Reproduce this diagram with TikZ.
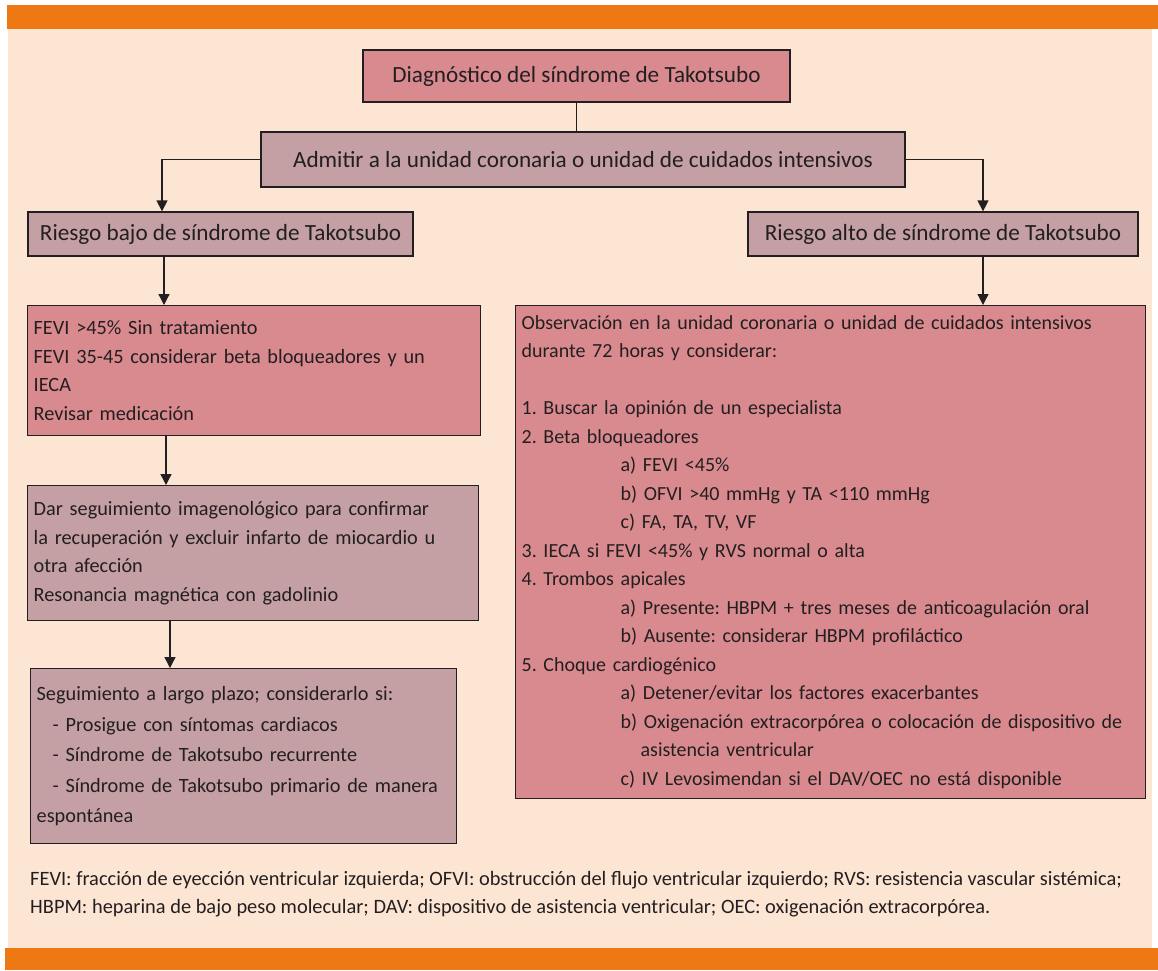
\documentclass[tikz,border=0pt]{standalone}
\usepackage{fontspec}
\setmainfont{Carlito}
\usetikzlibrary{arrows.meta}
\definecolor{orangebar}{HTML}{EE7914}
\definecolor{peach}{HTML}{FDE5D4}
\definecolor{pinkbox}{HTML}{D98A8F}
\definecolor{mauvebox}{HTML}{C49FA3}
\definecolor{ink}{HTML}{231F20}
\frenchspacing
\tikzset{
  boxbase/.style={draw=ink, line width=1.3pt, rectangle, inner xsep=6pt, inner ysep=4pt, text=ink},
  headbox/.style={boxbase, font=\fontsize{23.2}{27}\selectfont\frenchspacing, align=center},
  listbox/.style={boxbase, anchor=north west, align=left, font=\fontsize{20.3}{28.5}\selectfont\frenchspacing},
  pinkfill/.style={fill=pinkbox},
  mauvefill/.style={fill=mauvebox},
  conn/.style={draw=ink, line width=1.3pt},
  arr/.style={conn, -{Triangle[width=11pt,length=11pt]}},
}
\begin{document}
\begin{tikzpicture}[x=1pt,y=-1pt]
\useasboundingbox (0,0) rectangle (1158,970);
\fill[white] (0,0) rectangle (1158,970);
\fill[peach] (8,29) rectangle (1152,948);
\fill[orangebar] (7,5) rectangle (1158,29);
\fill[orangebar] (5,948) rectangle (1158,970);

\node[headbox, pinkfill, minimum width=427pt, minimum height=52pt] (title) at (576.5,76) {Diagnóstico del síndrome de Takotsubo};
\node[headbox, mauvefill, minimum width=644pt, minimum height=55pt] (admit) at (583,159.5) {Admitir a la unidad coronaria o unidad de cuidados intensivos};
\node[headbox, mauvefill, minimum width=385pt, minimum height=44pt] (bajo) at (220.5,234) {Riesgo bajo de síndrome de Takotsubo};
\node[headbox, mauvefill, minimum width=390pt, minimum height=44pt] (alto) at (943,234) {Riesgo alto de síndrome de Takotsubo};

\node[listbox, pinkfill, minimum width=453pt, minimum height=130pt, text width=441pt] (fevi) at (27,305) {FEVI >45\% Sin tratamiento\\FEVI 35-45 considerar beta bloqueadores y un\\IECA\\Revisar medicación};
\node[listbox, mauvefill, minimum width=451pt, minimum height=135pt, text width=439pt] (dar) at (27,485) {Dar seguimiento imagenológico para confirmar\\la recuperación y excluir infarto de miocardio u\\otra afección\\Resonancia magnética con gadolinio};
\node[listbox, mauvefill, minimum width=426pt, minimum height=175pt, text width=414pt, font=\fontsize{20.3}{30.5}\selectfont\frenchspacing] (seg) at (30,668) {Seguimiento a largo plazo; considerarlo si:\\\hspace*{16pt}- Prosigue con síntomas cardiacos\\\hspace*{16pt}- Síndrome de Takotsubo recurrente\\\hspace*{16pt}- Síndrome de Takotsubo primario de manera\\espontánea};
\node[listbox, pinkfill, minimum width=630pt, minimum height=493pt, text width=618pt, font=\fontsize{20}{28.5}\selectfont\frenchspacing] (obs) at (515,305) {Observación en la unidad coronaria o unidad de cuidados intensivos\\durante 72 horas y considerar:\\[28.5pt]1. Buscar la opinión de un especialista\\2. Beta bloqueadores\\\hspace*{99pt}a) FEVI <45\%\\\hspace*{99pt}b) OFVI >40 mmHg y TA <110 mmHg\\\hspace*{99pt}c) FA, TA, TV, VF\\3. IECA si FEVI <45\% y RVS normal o alta\\4. Trombos apicales\\\hspace*{99pt}a) Presente: HBPM + tres meses de anticoagulación oral\\\hspace*{99pt}b) Ausente: considerar HBPM profiláctico\\5. Choque cardiogénico\\\hspace*{99pt}a) Detener/evitar los factores exacerbantes\\\hspace*{99pt}b) Oxigenación extracorpórea o colocación de dispositivo de\\\hspace*{119pt}asistencia ventricular\\\hspace*{99pt}c) IV Levosimendan si el DAV/OEC no está disponible};

\node[anchor=north west, align=left, inner sep=0pt, text=ink, font=\fontsize{20.4}{28}\selectfont\frenchspacing] (foot) at (30,871) {FEVI: fracción de eyección ventricular izquierda; OFVI: obstrucción del flujo ventricular izquierdo; RVS: resistencia vascular sistémica;\\HBPM: heparina de bajo peso molecular; DAV: dispositivo de asistencia ventricular; OEC: oxigenación extracorpórea.};

\coordinate (xb) at (162,0);
\coordinate (xa) at (983,0);
\coordinate (x1) at (164,0);
\coordinate (x2) at (166,0);
\coordinate (x3) at (170,0);

\draw[conn] (title.south) -- (title.south |- admit.north);
\draw[arr] (admit.west) -| (bajo.north -| xb);
\draw[arr] (admit.east) -| (alto.north -| xa);
\draw[arr] (bajo.south -| x1) -- (fevi.north -| x1);
\draw[arr] (alto.south -| xa) -- (obs.north -| xa);
\draw[arr] (fevi.south -| x2) -- (dar.north -| x2);
\draw[arr] (dar.south -| x3) -- (seg.north -| x3);
\end{tikzpicture}
\end{document}
